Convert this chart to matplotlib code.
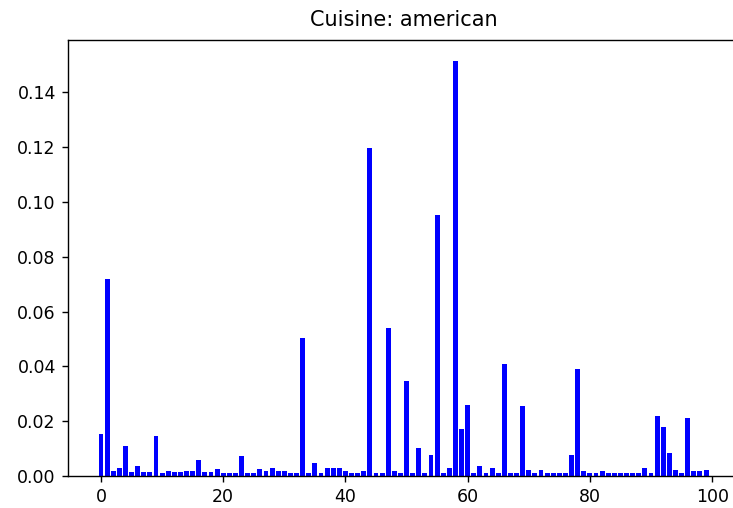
import matplotlib
matplotlib.use("Agg")
import matplotlib.pyplot as plt

title = "Cuisine: american"
values = [
    0.0152, 0.0720, 0.0019, 0.0030, 0.0108, 0.0013, 0.0035, 0.0013, 0.0013, 0.0146,  # 0-9
    0.0012, 0.0018, 0.0013, 0.0013, 0.0018, 0.0018, 0.0057, 0.0013, 0.0013, 0.0024,  # 10-19
    0.0012, 0.0012, 0.0012, 0.0073, 0.0012, 0.0012, 0.0024, 0.0018, 0.0028, 0.0018,  # 20-29
    0.0018, 0.0012, 0.0012, 0.0505, 0.0012, 0.0046, 0.0012, 0.0028, 0.0028, 0.0028,  # 30-39
    0.0018, 0.0012, 0.0012, 0.0018, 0.1195, 0.0012, 0.0012, 0.0540, 0.0018, 0.0012,  # 40-49
    0.0345, 0.0012, 0.0101, 0.0012, 0.0075, 0.0952, 0.0012, 0.0028, 0.1515, 0.0170,  # 50-59
    0.0260, 0.0012, 0.0038, 0.0012, 0.0028, 0.0012, 0.0410, 0.0012, 0.0012, 0.0255,  # 60-69
    0.0022, 0.0012, 0.0022, 0.0012, 0.0012, 0.0012, 0.0012, 0.0075, 0.0392, 0.0018,  # 70-79
    0.0012, 0.0012, 0.0018, 0.0012, 0.0012, 0.0012, 0.0012, 0.0012, 0.0012, 0.0028,  # 80-89
    0.0012, 0.0218, 0.0180, 0.0083, 0.0022, 0.0012, 0.0213, 0.0018, 0.0018, 0.0022,  # 90-99
]
positions = list(range(len(values)))

fig = plt.figure(figsize=(733 / 125, 508 / 125), dpi=125)
ax = fig.add_axes([68 / 733, 32 / 508, 671 / 733, 436 / 508])
ax.bar(positions, values, color="blue")
ax.spines["right"].set_visible(False)
ax.set_title(title, pad=8)
fig.savefig("out.png", dpi=125)
